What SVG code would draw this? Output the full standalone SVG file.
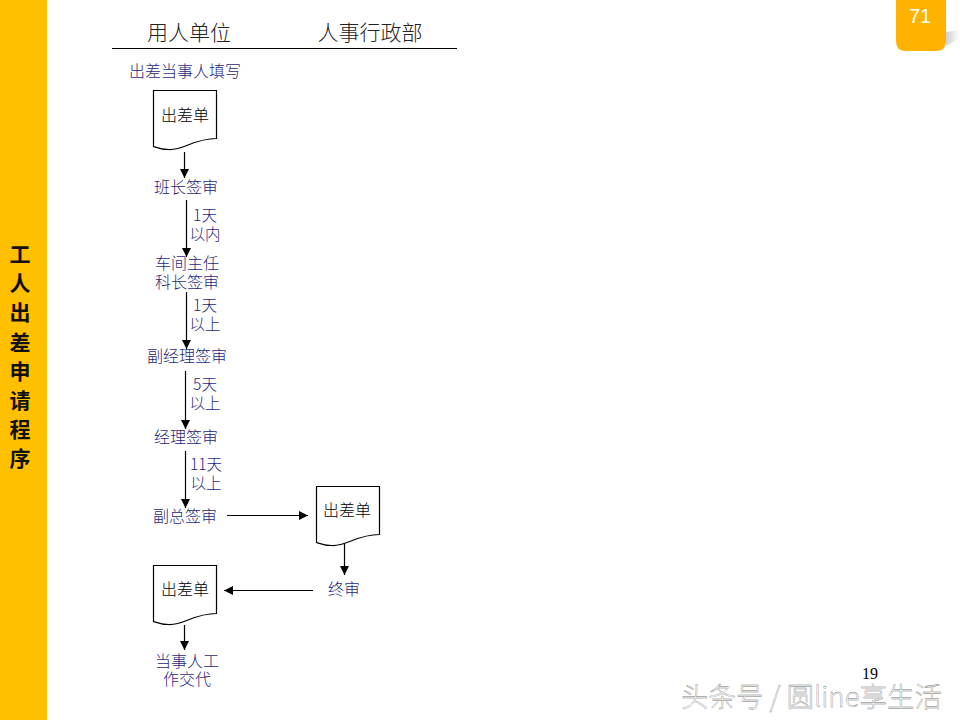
<svg xmlns="http://www.w3.org/2000/svg" width="960" height="720" viewBox="0 0 960 720">
<defs>
<marker id="arrow" markerUnits="userSpaceOnUse" markerWidth="10" markerHeight="10" refX="9" refY="4.500" orient="auto"><path d="M0,0 L9,4.500 L0,9 Z" fill="#000"/></marker>
<linearGradient id="shade" x1="0" y1="0" x2="1" y2="0"><stop offset="0" stop-color="#bbb"/><stop offset="1" stop-color="#fff"/></linearGradient>
<path id="doc" d="M0,0 H63 V48 C40,48 30,60 15,59 C8,59 3,57 0,56 Z" fill="#fff" stroke="#000" stroke-width="1.200"/>
</defs>
<style>
text{font-family:"Noto Sans CJK SC","Liberation Sans",sans-serif}
.n{font-size:16px;fill:#1f1f7a;text-anchor:middle;font-weight:300}
.b{font-size:16px;fill:#000;text-anchor:middle;font-weight:300}
.h{font-size:21px;fill:#222;text-anchor:middle;font-weight:300}
.s{font-size:15.500px;fill:#1f1f7a;text-anchor:middle;font-weight:300}
.v{font-size:21px;font-weight:700;fill:#111;text-anchor:middle}
.c{stroke:#000;stroke-width:1.200;fill:none;marker-end:url(#arrow)}
</style>
<rect id="sidebar" x="0" y="0" width="47" height="720" fill="#ffc000"/>
<g id="sidebar-title">
<text class="v" x="20" y="262">工</text><text class="v" x="20" y="291">人</text><text class="v" x="20" y="320">出</text><text class="v" x="20" y="350">差</text><text class="v" x="20" y="379">申</text><text class="v" x="20" y="408">请</text><text class="v" x="20" y="437">程</text><text class="v" x="20" y="466">序</text>
</g>
<g id="page-badge">
<path d="M946,32 L960,30 V38 L946,46 Z" fill="url(#shade)" opacity="0.700"/>
<path d="M896,0 H946 V41 Q946,51 936,51 H906 Q896,51 896,41 Z" fill="#ffb300"/>
<text x="920" y="23" font-size="20" fill="#fff" text-anchor="middle" style="font-family:'Liberation Sans',sans-serif">71</text>
</g>
<g id="header">
<text class="h" x="189" y="40">用人单位</text>
<text class="h" x="370" y="40">人事行政部</text>
<line x1="112" y1="48.500" x2="457" y2="48.500" stroke="#000" stroke-width="1"/>
</g>
<g id="connectors">
<line class="c" x1="184.500" y1="152" x2="184.500" y2="178"/>
<line class="c" x1="186.500" y1="200" x2="186.500" y2="257"/>
<line class="c" x1="186.500" y1="292" x2="186.500" y2="349"/>
<line class="c" x1="185.500" y1="371" x2="185.500" y2="429"/>
<line class="c" x1="185.500" y1="451" x2="185.500" y2="508"/>
<line class="c" x1="227" y1="515.500" x2="308" y2="515.500"/>
<line class="c" x1="344.500" y1="544" x2="344.500" y2="575"/>
<line class="c" x1="313" y1="590.500" x2="224" y2="590.500"/>
<line class="c" x1="184.500" y1="625" x2="184.500" y2="650"/>
</g>
<g id="note-fill"><text class="n" x="185" y="77">出差当事人填写</text></g>
<g id="doc-1"><use href="#doc" x="153.500" y="90.500"/><text class="b" x="185" y="121">出差单</text></g>
<g id="step-banzhang"><text class="n" x="186" y="193">班长签审</text></g>
<g id="label-1"><text class="s" x="205" y="221">1天</text><text class="s" x="205" y="240">以内</text></g>
<g id="step-zhuren"><text class="n" x="187" y="269">车间主任</text><text class="n" x="187" y="288">科长签审</text></g>
<g id="label-2"><text class="s" x="205" y="311">1天</text><text class="s" x="205" y="330">以上</text></g>
<g id="step-fujingli"><text class="n" x="187" y="362">副经理签审</text></g>
<g id="label-3"><text class="s" x="205" y="390">5天</text><text class="s" x="205" y="409">以上</text></g>
<g id="step-jingli"><text class="n" x="186" y="443">经理签审</text></g>
<g id="label-4"><text class="s" x="206" y="470">11天</text><text class="s" x="206" y="489">以上</text></g>
<g id="step-fuzong"><text class="n" x="185" y="522">副总签审</text></g>
<g id="doc-2"><use href="#doc" x="316.500" y="486.500"/><text class="b" x="347" y="516">出差单</text></g>
<g id="step-zhongshen"><text class="n" x="344" y="595">终审</text></g>
<g id="doc-3"><use href="#doc" x="153.500" y="565.500"/><text class="b" x="185" y="595">出差单</text></g>
<g id="step-end"><text class="n" x="187" y="667">当事人工</text><text class="n" x="187" y="685">作交代</text></g>
<text id="page-number" x="870" y="679" font-size="16" fill="#000" text-anchor="middle" style="font-family:'Liberation Serif',serif">19</text>
<text id="watermark" x="681" y="707" font-size="27.500" font-weight="300" fill="#fff" stroke="#777" stroke-width="0.350">头条号 / 圆line享生活</text>
</svg>
